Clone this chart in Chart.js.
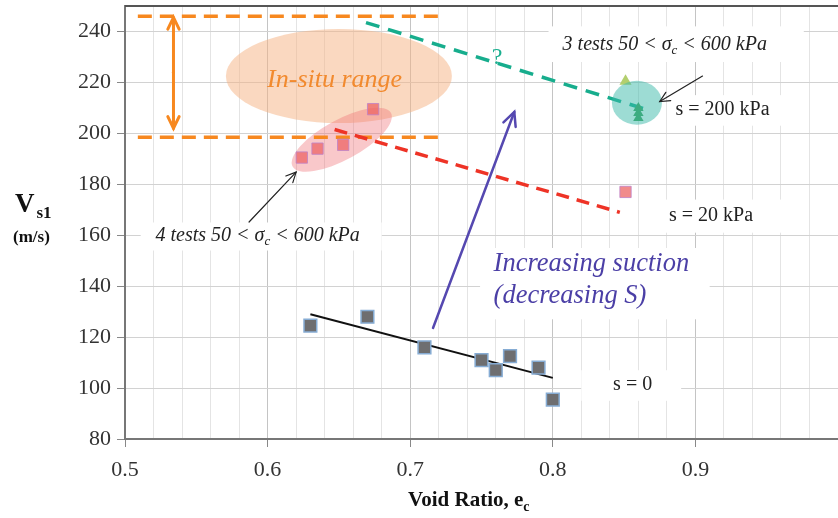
<!DOCTYPE html>
<html>
<head>
<meta charset="utf-8">
<script src="https://cdn.jsdelivr.net/npm/chart.js@4"></script>
<style>
  html, body { margin: 0; padding: 0; background: #fff; }
  canvas { display: block; }
</style>
</head>
<body>
<canvas id="vsChart" width="838" height="518"></canvas>
<script>
// ===== DATA =====
const xTicks = [0.5, 0.6, 0.7, 0.8, 0.9];
const yTicks = [80, 100, 120, 140, 160, 180, 200, 220, 240];

// s = 0 (saturated) tests
const s0Ratio = [0.63, 0.67, 0.71, 0.75, 0.76, 0.77, 0.79, 0.80];
const s0Vs    = [124.5, 128, 116, 111, 107, 112.5, 108, 95.5];
const s0FitRatio = [0.63, 0.80];
const s0FitVs    = [129, 104];

// s = 20 kPa tests
const s20Ratio = [0.624, 0.635, 0.653, 0.674, 0.851];
const s20Vs    = [190.5, 194, 195.5, 209.5, 177];
const s20FitRatio = [0.647, 0.847];
const s20FitVs    = [201.5, 169];

// s = 200 kPa tests
const s200LightRatio = [0.851];
const s200LightVs    = [220.5];
const s200Ratio = [0.86, 0.86, 0.86];
const s200Vs    = [210, 208, 206];
const s200FitRatio = [0.669, 0.865];
const s200FitVs    = [243.5, 209.5];

// in-situ range bounds
const inSituRatio = [0.509, 0.722];
const inSituTop = 246;
const inSituBottom = 198.5;

const pts = (xs, ys) => xs.map((v, i) => ({ x: v, y: ys[i] }));
const SERIF = '"Liberation Serif", "DejaVu Serif", serif';


// ===== DRAW HELPERS =====
function arrow(ctx, x1, y1, x2, y2, color, width, head) {
  ctx.strokeStyle = color;
  ctx.lineWidth = width;
  ctx.beginPath();
  ctx.moveTo(x1, y1);
  ctx.lineTo(x2, y2);
  ctx.stroke();
  const a = Math.atan2(y2 - y1, x2 - x1);
  ctx.beginPath();
  ctx.moveTo(x2 - head * Math.cos(a - 0.45), y2 - head * Math.sin(a - 0.45));
  ctx.lineTo(x2, y2);
  ctx.lineTo(x2 - head * Math.cos(a + 0.45), y2 - head * Math.sin(a + 0.45));
  ctx.stroke();
}

// text made of segments, some of them subscripts
function richText(ctx, cx, cy, segs, size, style, color, align) {
  const widths = segs.map(s => {
    ctx.font = `${style} ${s.sub ? Math.round(size * 0.65) : size}px ${SERIF}`;
    return ctx.measureText(s.t).width;
  });
  const total = widths.reduce((a, b) => a + b, 0);
  let x = align === 'left' ? cx : cx - total / 2;
  ctx.fillStyle = color;
  ctx.textBaseline = 'middle';
  ctx.textAlign = 'left';
  segs.forEach((s, i) => {
    ctx.font = `${style} ${s.sub ? Math.round(size * 0.65) : size}px ${SERIF}`;
    ctx.fillText(s.t, x, s.sub ? cy + size * 0.3 : cy);
    x += widths[i];
  });
  return total;
}

function whiteBox(ctx, x1, y1, x2, y2) {
  ctx.fillStyle = '#fff';
  ctx.fillRect(x1, y1, x2 - x1, y2 - y1);
}


// ===== ANNOTATION PLUGIN =====
const annotations = {
  id: 'annotations',
  beforeDatasetsDraw(chart) {
    const { ctx, scales: { x, y }, chartArea } = chart;
    const px = v => x.getPixelForValue(v);
    const py = v => y.getPixelForValue(v);
    ctx.save();

    // top frame line
    ctx.strokeStyle = '#555';
    ctx.lineWidth = 2;
    ctx.beginPath();
    ctx.moveTo(chartArea.left, chartArea.top);
    ctx.lineTo(chartArea.right, chartArea.top);
    ctx.stroke();

    // label backgrounds
    whiteBox(ctx, px(0.511), py(165), px(0.68), py(154));
    whiteBox(ctx, px(0.797), py(242), px(0.976), py(228));
    whiteBox(ctx, px(0.888), py(215), px(0.97), py(203));
    whiteBox(ctx, px(0.877), py(174), px(0.962), py(161));
    whiteBox(ctx, px(0.749), py(155), px(0.91), py(127));
    whiteBox(ctx, px(0.82), py(107), px(0.89), py(95));

    // in-situ ellipse
    ctx.fillStyle = 'rgba(246, 178, 130, 0.5)';
    ctx.beginPath();
    ctx.ellipse(px(0.65), py(222.5), 113, 47, 0, 0, Math.PI * 2);
    ctx.fill();

    // ellipse round the s = 20 kPa tests
    ctx.fillStyle = 'rgba(238, 110, 115, 0.38)';
    ctx.beginPath();
    ctx.ellipse(px(0.652), py(197.5), 56, 20, -0.5, 0, Math.PI * 2);
    ctx.fill();

    ctx.restore();
  },
  afterDatasetsDraw(chart) {
    const { ctx, scales: { x, y } } = chart;
    const px = v => x.getPixelForValue(v);
    const py = v => y.getPixelForValue(v);
    ctx.save();

    // teal circle round the s = 200 kPa tests
    ctx.fillStyle = 'rgba(60, 185, 170, 0.5)';
    ctx.beginPath();
    ctx.ellipse(px(0.859), py(212), 25, 22, 0, 0, Math.PI * 2);
    ctx.fill();

    // in-situ double arrow
    ctx.lineCap = 'round';
    arrow(ctx, px(0.534), py(224), px(0.534), py(245.5), '#f7881f', 3, 13);
    arrow(ctx, px(0.534), py(224), px(0.534), py(202), '#f7881f', 3, 13);

    // pointer arrows
    arrow(ctx, px(0.587), py(165.2), px(0.62), py(184.8), '#222', 1.2, 11);
    arrow(ctx, px(0.905), py(222.5), px(0.875), py(212.5), '#222', 1.2, 11);

    // increasing suction arrow
    arrow(ctx, px(0.716), py(123.6), px(0.773), py(208.4), '#5548b0', 2.5, 15);

    // texts
    richText(ctx, px(0.647), py(221), [{ t: 'In-situ range' }], 26, 'italic', '#f28a2e');
    richText(ctx, px(0.761), py(229.6), [{ t: '?' }], 24, '', '#1aaf8f');
    richText(ctx, px(0.593), py(159.7),
      [{ t: '4 tests 50 < σ' }, { t: 'c', sub: true }, { t: ' < 600 kPa' }], 20, 'italic', '#222');
    richText(ctx, px(0.8785), py(234.7),
      [{ t: '3 tests 50 < σ' }, { t: 'c', sub: true }, { t: ' < 600 kPa' }], 20, 'italic', '#222');
    richText(ctx, px(0.919), py(209.2), [{ t: 's = 200 kPa' }], 20, '', '#222');
    richText(ctx, px(0.911), py(167.6), [{ t: 's = 20 kPa' }], 20, '', '#222');
    richText(ctx, px(0.856), py(101.2), [{ t: 's = 0' }], 20, '', '#222');
    richText(ctx, px(0.7585), py(148.5), [{ t: 'Increasing suction' }], 26.5, 'italic', '#4b3fa6', 'left');
    richText(ctx, px(0.7585), py(136), [{ t: '(decreasing S)' }], 26.5, 'italic', '#4b3fa6', 'left');

    // axis titles
    const vw = richText(ctx, 15, 205, [{ t: 'V' }], 27, 'bold', '#111', 'left');
    richText(ctx, 15 + vw + 2, 214, [{ t: 's1' }], 17, 'bold', '#111', 'left');
    richText(ctx, 13, 238, [{ t: '(m/s)' }], 17, 'bold', '#111', 'left');
    richText(ctx, 408, 501, [{ t: 'Void Ratio, e' }, { t: 'c', sub: true }], 21, 'bold', '#111', 'left');

    ctx.restore();
  }
};


// ===== CHART =====
const ctx = document.getElementById('vsChart').getContext('2d');

const isMajor = v => xTicks.some(t => Math.abs(t - v) < 1e-6);

new Chart(ctx, {
  type: 'scatter',
  data: {
    datasets: [
      {
        data: pts(s0Ratio, s0Vs),
        pointStyle: 'rect',
        pointRadius: 9,
        backgroundColor: '#6e6e70',
        borderColor: '#86acd4',
        borderWidth: 1.5
      },
      {
        data: pts(s0FitRatio, s0FitVs),
        showLine: true,
        pointRadius: 0,
        borderColor: '#111',
        borderWidth: 2
      },
      {
        data: pts(s20Ratio, s20Vs),
        pointStyle: 'rect',
        pointRadius: 8,
        backgroundColor: 'rgba(236, 100, 100, 0.75)',
        borderColor: 'rgba(190, 130, 200, 0.8)',
        borderWidth: 1
      },
      {
        data: pts(s20FitRatio, s20FitVs),
        showLine: true,
        pointRadius: 0,
        borderColor: '#ee3326',
        borderWidth: 3.5,
        borderDash: [13, 8]
      },
      {
        data: pts(s200LightRatio, s200LightVs),
        pointStyle: 'triangle',
        pointRadius: 7,
        backgroundColor: '#b3cf6e',
        borderWidth: 0
      },
      {
        data: pts(s200Ratio, s200Vs),
        pointStyle: 'triangle',
        pointRadius: 6,
        backgroundColor: '#3f9e58',
        borderWidth: 0
      },
      {
        data: pts(s200FitRatio, s200FitVs),
        showLine: true,
        pointRadius: 0,
        borderColor: '#17ad8d',
        borderWidth: 3.5,
        borderDash: [14, 9]
      },
      {
        data: pts(inSituRatio, [inSituTop, inSituTop]),
        showLine: true,
        pointRadius: 0,
        borderColor: '#f7881f',
        borderWidth: 3.5,
        borderDash: [14, 8]
      },
      {
        data: pts(inSituRatio, [inSituBottom, inSituBottom]),
        showLine: true,
        pointRadius: 0,
        borderColor: '#f7881f',
        borderWidth: 3.5,
        borderDash: [14, 8]
      }
    ]
  },
  options: {
    responsive: false,
    animation: false,
    layout: { autoPadding: false, padding: { top: 6, right: 0, left: 0, bottom: 0 } },
    plugins: {
      legend: { display: false },
      tooltip: { enabled: false }
    },
    scales: {
      x: {
        type: 'linear',
        min: 0.5,
        max: 1.0,
        afterFit: s => {
          s.height = 79;
          s.paddingLeft = 0;
          s.paddingRight = 0;
        },
        afterBuildTicks: s => {
          s.ticks = [];
          for (let i = 0; i <= 25; i++) s.ticks.push({ value: +(0.5 + i * 0.02).toFixed(2) });
        },
        ticks: {
          autoSkip: false,
          maxRotation: 0,
          padding: 10,
          color: '#333',
          font: { family: SERIF, size: 22 },
          callback: v => (isMajor(v) ? v.toFixed(1) : '')
        },
        grid: {
          color: c => (isMajor(c.tick.value) ? '#c4c4c4' : '#e4e4e4'),
          tickColor: c => (isMajor(c.tick.value) ? '#888' : 'rgba(0,0,0,0)'),
          tickLength: 8
        },
        border: { color: '#777', width: 2 }
      },
      y: {
        min: 80,
        max: 250,
        afterFit: s => {
          s.width = 125;
          s.paddingTop = 0;
          s.paddingBottom = 0;
        },
        afterBuildTicks: s => { s.ticks = yTicks.map(v => ({ value: v })); },
        ticks: {
          padding: 6,
          color: '#333',
          font: { family: SERIF, size: 22 },
          callback: v => v
        },
        grid: {
          color: '#d2d2d2',
          tickColor: '#888',
          tickLength: 8
        },
        border: { color: '#777', width: 2 }
      }
    }
  },
  plugins: [annotations]
});
</script>
</body>
</html>
